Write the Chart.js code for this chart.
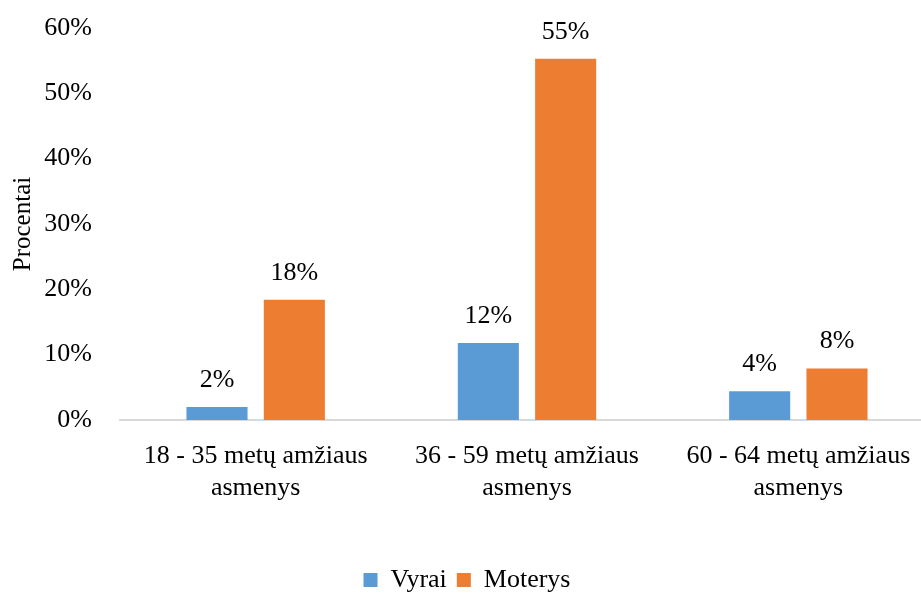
<!DOCTYPE html>
<html>
<head>
<meta charset="utf-8">
<script src="https://cdn.jsdelivr.net/npm/chart.js@4/dist/chart.umd.min.js"></script>
<style>
  html, body { margin: 0; padding: 0; background: #fff; overflow: hidden; }
  #wrap { width: 934px; height: 603px; position: relative; }
</style>
</head>
<body>
<div id="wrap"><canvas id="chart"></canvas></div>
<script>
var categories = [
    ['18 - 35 metų amžiaus', 'asmenys'],
    ['36 - 59 metų amžiaus', 'asmenys'],
    ['60 - 64 metų amžiaus', 'asmenys']
];
var vyrai = [2.0, 11.8, 4.4];
var moterys = [18.4, 55.3, 7.9];
var yTicks = [0, 10, 20, 30, 40, 50, 60];

var FONT = 'Liberation Serif';
var FS = 26;

// simple value labels above each bar
var barLabels = {
    id: 'barLabels',
    afterDatasetsDraw: function(chart) {
        var c = chart.ctx;
        c.save();
        c.font = FS + 'px "' + FONT + '"';
        c.fillStyle = '#000';
        c.textAlign = 'center';
        c.textBaseline = 'middle';
        chart.data.datasets.forEach(function(ds, i) {
            chart.getDatasetMeta(i).data.forEach(function(bar, j) {
                c.fillText(Math.round(ds.data[j]) + '%', bar.x, bar.y - 27);
            });
        });
        c.restore();
    }
};

new Chart(document.getElementById('chart').getContext('2d'), {
    type: 'bar',
    data: {
        labels: categories,
        datasets: [
            {
                label: 'Vyrai',
                data: vyrai,
                backgroundColor: '#5B9BD5',
                borderWidth: 0,
                categoryPercentage: 0.57,
                barPercentage: 0.79
            },
            {
                label: 'Moterys',
                data: moterys,
                backgroundColor: '#ED7D31',
                borderWidth: 0,
                categoryPercentage: 0.57,
                barPercentage: 0.79
            }
        ]
    },
    options: {
        responsive: true,
        maintainAspectRatio: false,
        animation: false,
        layout: { padding: { top: 28, left: 0, right: 0, bottom: 0 } },
        scales: {
            x: {
                grid: { display: false, drawTicks: false },
                border: { color: '#D9D9D9', width: 2 },
                afterFit: function(scale) { scale.height = 137; },
                ticks: {
                    color: '#000',
                    font: { family: FONT, size: FS, lineHeight: 1.2 },
                    maxRotation: 0,
                    autoSkip: false,
                    padding: 21
                }
            },
            y: {
                min: 0,
                max: 60,
                afterBuildTicks: function(scale) {
                    scale.ticks = yTicks.map(function(v) { return { value: v }; });
                },
                afterFit: function(scale) {
                    scale.width = 120;
                    scale.paddingTop = 0;
                },
                grid: { display: false, drawTicks: false },
                border: { display: false },
                title: {
                    display: true,
                    text: 'Procentai',
                    color: '#000',
                    font: { family: FONT, size: 25 },
                    padding: { top: 8, bottom: 0 }
                },
                ticks: {
                    color: '#000',
                    font: { family: FONT, size: FS },
                    padding: 28,
                    callback: function(v) { return v + '%'; }
                }
            }
        },
        plugins: {
            legend: {
                position: 'bottom',
                labels: {
                    color: '#000',
                    font: { family: FONT, size: FS },
                    boxWidth: 14,
                    boxHeight: 14,
                    padding: 10
                }
            },
            tooltip: { enabled: false }
        }
    },
    plugins: [barLabels]
});
</script>
</body>
</html>
